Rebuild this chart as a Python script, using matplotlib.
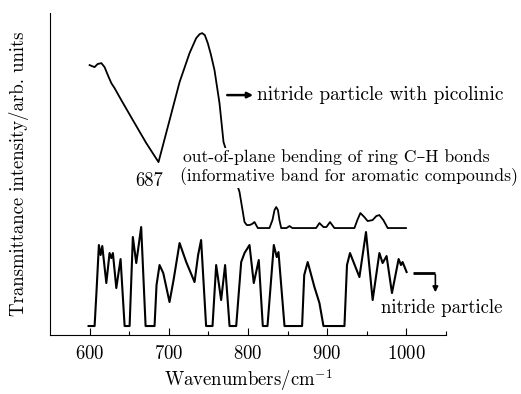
import numpy as np
import matplotlib
matplotlib.use('Agg')
import matplotlib.pyplot as plt
from matplotlib.ticker import FixedLocator

plt.rcParams['font.family'] = ['cmr10', 'DejaVu Serif']
plt.rcParams['mathtext.fontset'] = 'cm'
plt.rcParams['axes.formatter.use_mathtext'] = True

# nitride particle with picolinic (upper trace)
wn_pic = [600, 603, 606.3, 610, 614.8, 618.9, 623, 627.4, 631.5, 640, 654.6, 671.5, 687,
          701, 713.6, 726.2, 734.6, 739, 742.1, 745.5, 749.2, 753, 757.7, 764, 769.1, 789.3,
          795.6, 798.5, 801.9, 805, 808.2, 812.4, 827.1, 830.9, 833.5, 835.6, 837.8, 839.7, 841.9, 848.6,
          852.4, 856.1, 886, 890.2, 895.3, 899, 903.6, 909.1, 934.4, 938.1,
          941.9, 946.9, 951.1, 957.4, 962, 965.9, 970.9, 976.4, 999.5]
int_pic = [270, 269, 268, 271, 272, 268, 260, 252, 247, 235, 215, 192, 173,
           215, 253, 282, 297, 301, 302, 300, 292, 281, 265, 232, 193, 143,
           113, 110, 110, 111, 113, 107, 107, 115, 125, 128, 125, 115, 107, 107,
           109, 107, 107, 112, 108, 108, 113, 107, 107, 115,
           122, 118, 114, 115, 119, 120, 115, 107, 107]

# nitride particle (lower trace)
wn_nit = [598.7, 606.3, 608.8, 611.7, 613.9, 616.0, 621.1, 625.2, 627.4, 629.4,
          633.7, 639.1, 644.2, 650.5, 654.6, 658.9, 665.1, 670.7, 682.0, 684.5, 688.3,
          693, 700.9, 706, 713.6, 722.0, 732.5, 737, 740.8, 747.1, 755.2, 759.8, 766.1, 771.1,
          776.7, 785.1, 791.4, 795.6, 801.9, 807.3, 813.6, 818.7, 824.6, 832.6,
          836.3, 838.5, 846.1, 868.3, 871, 875.4, 883.9, 890.2, 895.3, 921.8, 925, 928.8,
          940.7, 949.0, 957.4, 965.9, 970.0, 975.0, 981.8, 990.2, 993.2, 995.2,
          1000.3]
int_nit = [9, 9, 45, 90, 80, 89, 52, 82, 77, 82,
           47, 76, 9, 9, 98, 72, 108, 9, 9, 50, 70,
           62, 33, 55, 92, 73, 53, 80, 95, 9, 9, 70, 35, 70,
           9, 9, 73, 82, 90, 52, 75, 9, 9, 90,
           78, 83, 9, 9, 60, 73, 48, 32, 9, 9, 70, 82,
           58, 103, 35, 82, 72, 79, 42, 76, 70, 73,
           63]

fig = plt.figure(figsize=(5.21, 3.94), dpi=100)
ax = fig.add_axes([0.096, 0.1497, 0.760, 0.817])

ax.plot(wn_pic, int_pic, color='black', lw=1.3, zorder=2)
ax.plot(wn_nit, int_nit, color='black', lw=1.5, zorder=2)

ax.set_xlim(550, 1050)
ax.set_ylim(0, 322)
ax.set_xticks([600, 700, 800, 900, 1000])
ax.xaxis.set_minor_locator(FixedLocator([650, 750, 850, 950, 1050]))
ax.tick_params(axis='x', which='major', direction='in', length=5, width=0.8, labelsize=13.5, pad=7)
ax.tick_params(axis='x', which='minor', direction='in', length=3, width=0.8)
ax.set_yticks([])
for s in ['top', 'right']:
    ax.spines[s].set_visible(False)

ax.set_xlabel('Wavenumbers/cm$^{-1}$', fontsize=13.5, labelpad=3)
ax.set_ylabel('Transmittance intensity/arb. units', fontsize=13.5, labelpad=15)

fs = 12.7
box = dict(facecolor='white', edgecolor='none', pad=1)
ax.text(675.7, 154, '687', fontsize=13.5, ha='center', va='center')
ax.text(717.4, 178, 'out-of-plane bending of ring C–H bonds', fontsize=fs,
        ha='left', va='center', bbox=box, zorder=3)
ax.text(713.6, 158, '(informative band for aromatic compounds)', fontsize=fs,
        ha='left', va='center', bbox=box, zorder=3)

ax.annotate('', xy=(810, 240), xytext=(770.3, 240),
            arrowprops=dict(arrowstyle='-|>', color='black', lw=1.8, mutation_scale=8))
ax.text(812, 240, 'nitride particle with picolinic', fontsize=14, ha='left', va='center')

ax.plot([1008.8, 1036.6], [62, 62], color='black', lw=2, solid_capstyle='butt')
ax.annotate('', xy=(1036.6, 40), xytext=(1036.6, 63),
            arrowprops=dict(arrowstyle='-|>', color='black', lw=1.2, mutation_scale=8))
ax.text(968.5, 27, 'nitride particle', fontsize=13.5, ha='left', va='center')

fig.savefig('out.png', dpi=100)
